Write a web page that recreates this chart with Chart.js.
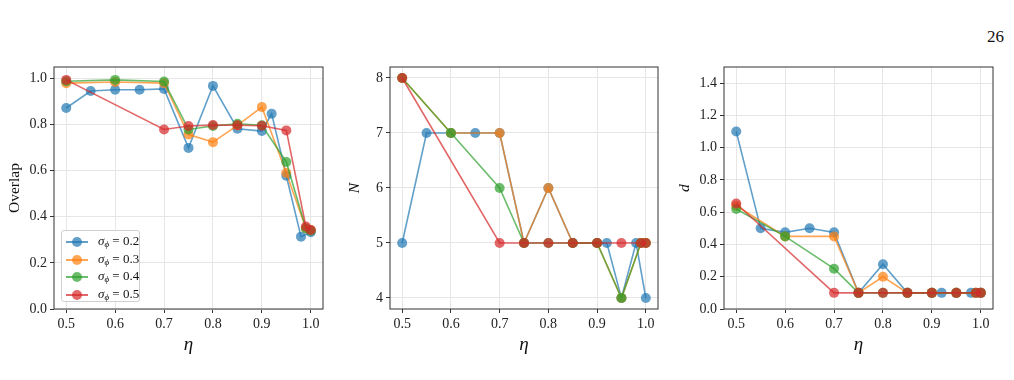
<!DOCTYPE html>
<html>
<head>
<meta charset="utf-8">
<script src="https://cdn.jsdelivr.net/npm/chart.js@4"></script>
<style>
  body { margin: 0; background: #fff; width: 1014px; height: 380px; position: relative; overflow: hidden; font-family: 'Liberation Serif', serif; }
  canvas { position: absolute; top: 60px; }
  #pageNum { position: absolute; right: 10px; top: 27px; font-size: 17px; color: #111; }
  #legend { position: absolute; left: 61px; top: 230px; width: 79px; height: 72px; border: 1px solid #d0d0d0; border-radius: 3px; background: rgba(255,255,255,0.85); box-sizing: border-box; }
  .entry { position: absolute; left: 0; height: 17px; width: 79px; font-size: 13px; color: #111; }
  .entry .ln { position: absolute; left: 4px; top: 8px; width: 22px; height: 2px; }
  .entry .dot { position: absolute; left: 10px; top: 4px; width: 10px; height: 10px; border-radius: 50%; }
  .entry .txt { position: absolute; left: 36px; top: 0px; white-space: nowrap; }
  sub { font-size: 9px; vertical-align: -2px; }
</style>
</head>
<body>
<div id="pageNum">26</div>
<canvas id="overlapChart" width="340" height="300" style="left:0px"></canvas>
<canvas id="nChart" width="330" height="300" style="left:340px"></canvas>
<canvas id="dChart" width="344" height="300" style="left:670px"></canvas>
<div id="legend"></div>

<script>
// Valores de eta para cada serie
const etaS02 = [0.5, 0.55, 0.6, 0.65, 0.7, 0.75, 0.8, 0.85, 0.9, 0.92, 0.95, 0.98, 1.0];
const etaS03 = [0.5, 0.6, 0.7, 0.75, 0.8, 0.85, 0.9, 0.95, 0.99, 1.0];
const etaS04 = [0.5, 0.6, 0.7, 0.75, 0.8, 0.85, 0.9, 0.95, 0.99, 1.0];
const etaS05 = [0.5, 0.7, 0.75, 0.8, 0.85, 0.9, 0.95, 0.99, 1.0];

const sigmaLabels = ['0.2', '0.3', '0.4', '0.5'];

// Overlap
const overlapS02 = [0.872, 0.946, 0.951, 0.951, 0.955, 0.699, 0.968, 0.782, 0.772, 0.847, 0.578, 0.314, 0.333];
const overlapS03 = [0.980, 0.985, 0.980, 0.757, 0.724, 0.797, 0.876, 0.590, 0.350, 0.343];
const overlapS04 = [0.988, 0.994, 0.987, 0.779, 0.794, 0.804, 0.797, 0.638, 0.349, 0.340];
const overlapS05 = [0.994, 0.779, 0.794, 0.798, 0.797, 0.795, 0.775, 0.358, 0.343];

// N
const nS02 = [5, 7, 7, 7, 7, 5, 6, 5, 5, 5, 4, 5, 4];
const nS03 = [8, 7, 7, 5, 6, 5, 5, 4, 5, 5];
const nS04 = [8, 7, 6, 5, 5, 5, 5, 4, 5, 5];
const nS05 = [8, 5, 5, 5, 5, 5, 5, 5, 5];

// d
const dS02 = [1.10, 0.50, 0.475, 0.50, 0.475, 0.10, 0.277, 0.10, 0.10, 0.10, 0.10, 0.10, 0.10];
const dS03 = [0.64, 0.45, 0.45, 0.10, 0.20, 0.10, 0.10, 0.10, 0.10, 0.10];
const dS04 = [0.62, 0.45, 0.25, 0.10, 0.10, 0.10, 0.10, 0.10, 0.10, 0.10];
const dS05 = [0.654, 0.10, 0.10, 0.10, 0.10, 0.10, 0.10, 0.10, 0.10];

// Etiquetas de los ejes
const etaTicks = [0.5, 0.6, 0.7, 0.8, 0.9, 1.0];
const overlapTicks = [0.0, 0.2, 0.4, 0.6, 0.8, 1.0];
const nTicks = [4, 5, 6, 7, 8];
const dTicks = [0.0, 0.2, 0.4, 0.6, 0.8, 1.0, 1.2, 1.4];

const seriesColors = ['rgba(31,119,180,0.7)', 'rgba(255,127,14,0.7)', 'rgba(44,160,44,0.7)', 'rgba(214,39,40,0.7)'];
const etaSets = [etaS02, etaS03, etaS04, etaS05];

Chart.defaults.font.family = "'Liberation Serif', serif";
Chart.defaults.color = '#111';

// Marco alrededor del área del gráfico
const framePlugin = {
    id: 'frame',
    afterDraw(chart) {
        const a = chart.chartArea;
        const ctx = chart.ctx;
        ctx.save();
        ctx.strokeStyle = '#333';
        ctx.lineWidth = 1;
        ctx.strokeRect(a.left, a.top, a.right - a.left, a.bottom - a.top);
        ctx.restore();
    }
};

function toPoints(xs, ys) {
    return xs.map((x, i) => ({ x: x, y: ys[i] }));
}

function createPanel(id, values, yTicks, yMin, yMax, yTitle, yItalic, yWidth, rightPad, decimals) {
    const datasets = values.map((ys, i) => ({
        label: 'σϕ = ' + sigmaLabels[i],
        data: toPoints(etaSets[i], ys),
        showLine: true,
        order: values.length - 1 - i, // la última serie se dibuja encima
        borderColor: seriesColors[i],
        backgroundColor: seriesColors[i],
        borderWidth: 1.6,
        pointRadius: 5,
        pointBorderWidth: 0,
        pointHoverRadius: 5
    }));

    new Chart(document.getElementById(id), {
        type: 'scatter',
        data: { datasets: datasets },
        options: {
            responsive: false,
            animation: false,
            layout: { padding: { top: 7, right: rightPad, left: 0, bottom: 0 } },
            plugins: { legend: { display: false }, tooltip: { enabled: false } },
            scales: {
                x: {
                    type: 'linear',
                    min: 0.475,
                    max: 1.025,
                    afterBuildTicks: s => { s.ticks = etaTicks.map(v => ({ value: v })); },
                    afterFit: s => { s.height = 51; s.paddingLeft = 0; s.paddingRight = 0; },
                    ticks: {
                        font: { size: 14 },
                        color: '#222',
                        padding: 3,
                        maxRotation: 0,
                        callback: v => v.toFixed(1)
                    },
                    grid: { color: '#e6e6e6', lineWidth: 1, tickLength: 4, tickColor: '#333' },
                    border: { display: false },
                    title: { display: true, text: 'η', font: { size: 19, style: 'italic' }, color: '#111', padding: { top: 0, bottom: 4 } }
                },
                y: {
                    type: 'linear',
                    min: yMin,
                    max: yMax,
                    afterBuildTicks: s => { s.ticks = yTicks.map(v => ({ value: v })); },
                    afterFit: s => { s.width = yWidth; s.paddingTop = 0; s.paddingBottom = 0; },
                    ticks: {
                        font: { size: 14 },
                        color: '#222',
                        padding: 3,
                        callback: v => v.toFixed(decimals)
                    },
                    grid: { color: '#e6e6e6', lineWidth: 1, tickLength: 4, tickColor: '#333' },
                    border: { display: false },
                    title: { display: true, text: yTitle, font: { size: 15.5, style: yItalic ? 'italic' : 'normal' }, color: '#111', padding: { top: 6, bottom: 0 } }
                }
            }
        },
        plugins: [framePlugin]
    });
}

document.addEventListener('DOMContentLoaded', function () {
    createPanel('overlapChart', [overlapS02, overlapS03, overlapS04, overlapS05], overlapTicks, 0, 1.05, 'Overlap', false, 54, 17, 1);
    createPanel('nChart', [nS02, nS03, nS04, nS05], nTicks, 3.8, 8.2, 'N', true, 50, 12, 0);
    createPanel('dChart', [dS02, dS03, dS04, dS05], dTicks, 0, 1.5, 'd', true, 54, 21, 1);

    // Leyenda en el primer panel
    const legend = document.getElementById('legend');
    sigmaLabels.forEach((lab, i) => {
        const row = document.createElement('div');
        row.className = 'entry';
        row.style.top = (2 + i * 17.5) + 'px';
        row.innerHTML = '<div class="ln" style="background:' + seriesColors[i] + '"></div>' +
            '<div class="dot" style="background:' + seriesColors[i] + '"></div>' +
            '<div class="txt"><i>σ</i><sub><i>ϕ</i></sub> = ' + lab + '</div>';
        legend.appendChild(row);
    });
});
</script>
</body>
</html>
